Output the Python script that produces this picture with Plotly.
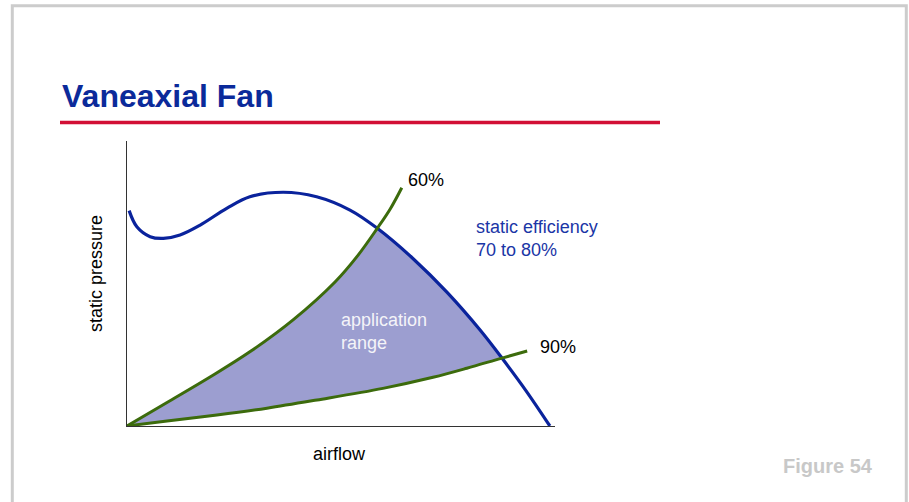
import plotly.graph_objects as go

# ---- data (airflow %, static pressure %) ----
fan_airflow = [0.5, 2.3, 5.4, 8.5, 12.4, 17.1, 23.3, 28.7, 36.5, 44.3, 52.1, 58.48, 66.8, 74.8, 82.5, 87.6, 93.2, 98.8]
fan_pressure = [76.1, 70.4, 66.9, 66.3, 67.5, 71.0, 76.9, 81.0, 82.6, 81.0, 76.3, 69.86, 59.2, 47.2, 33.9, 24.0, 12.5, 0.0]

sys60_airflow = [0.0, 9.35, 19.4, 28.7, 38.8, 48.6, 54.0, 58.48, 61.5, 64.2]
sys60_pressure = [0.0, 8.3, 17.3, 26.2, 37.5, 50.9, 60.4, 69.86, 76.7, 84.2]

sys90_airflow = [0.0, 9.35, 21.0, 32.7, 44.4, 59.8, 71.5, 79.4, 87.6, 93.5]
sys90_pressure = [0.0, 1.8, 3.9, 6.3, 9.2, 13.3, 17.2, 20.4, 24.0, 26.5]

W, H = 909, 502
FONT = "Liberation Sans, Arial, sans-serif"
BLUE = "#0A239C"
GREEN = "#3C6B0C"
FILL = "#9C9ED0"

# application range polygon: 60% curve up to fan crossing, fan curve down to 90% crossing, 90% curve back
i60 = 7   # index of crossing on sys60
f0, f1 = 11, 15  # fan indices of the two crossings
i90 = 8   # index of crossing on sys90
poly_x = sys60_airflow[:i60 + 1] + fan_airflow[f0 + 1:f1 + 1] + sys90_airflow[:i90][::-1]
poly_y = sys60_pressure[:i60 + 1] + fan_pressure[f0 + 1:f1 + 1] + sys90_pressure[:i90][::-1]

fig = go.Figure()
fig.add_trace(go.Scatter(x=poly_x, y=poly_y, mode="lines", fill="toself",
                         fillcolor=FILL, line=dict(width=0, color=FILL),
                         hoverinfo="skip", showlegend=False))
fig.add_trace(go.Scatter(x=fan_airflow, y=fan_pressure, mode="lines",
                         line=dict(color=BLUE, width=3.2, shape="spline", smoothing=1),
                         cliponaxis=False, showlegend=False))
fig.add_trace(go.Scatter(x=sys60_airflow, y=sys60_pressure, mode="lines",
                         line=dict(color=GREEN, width=3, shape="spline", smoothing=1),
                         cliponaxis=False, showlegend=False))
fig.add_trace(go.Scatter(x=sys90_airflow, y=sys90_pressure, mode="lines",
                         line=dict(color=GREEN, width=3, shape="spline", smoothing=1),
                         cliponaxis=False, showlegend=False))

def px(x):
    return x / W

def py(y):
    return 1 - y / H

x0, x1 = 127, 555
y0, y1 = 426, 141
fig.update_layout(
    width=W, height=H,
    margin=dict(l=0, r=0, t=0, b=0),
    paper_bgcolor="white", plot_bgcolor="white",
    xaxis=dict(domain=[px(x0), px(x1)], range=[0, 100], showgrid=False, zeroline=False,
               showticklabels=False, ticks="", showline=True, linecolor="#333333", linewidth=1.3,
               fixedrange=True),
    yaxis=dict(domain=[py(y0), py(y1)], range=[0, 100 * (y0 - y1) / (y0 - 143)], showgrid=False,
               zeroline=False, showticklabels=False, ticks="", showline=True,
               linecolor="#333333", linewidth=1.3, fixedrange=True),
    font=dict(family=FONT, size=18, color="black"),
)

# frame and title rule
fig.add_shape(type="rect", xref="paper", yref="paper",
              x0=px(12.3), x1=px(906.3), y0=py(5.7), y1=py(520),
              line=dict(color="#CCCCCC", width=3), layer="below")
fig.add_shape(type="line", xref="paper", yref="paper",
              x0=px(60), x1=px(660), y0=py(122.5), y1=py(122.5),
              line=dict(color="#D20F35", width=3.6))

def label(text, x, y, size=18, color="black", xanchor="left", family=FONT, angle=0):
    fig.add_annotation(text=text, xref="paper", yref="paper", x=px(x), y=py(y),
                       xanchor=xanchor, yanchor="middle", showarrow=False, textangle=angle,
                       align="left", font=dict(family=family, size=size, color=color))

label("<b>Vaneaxial Fan</b>", 60, 96, size=32, color="#0B2A9A")
label("60%", 406, 180)
label("static efficiency<br>70 to 80%", 474, 238, color="#1A35A6")
label("90%", 538, 347)
label("application<br>range", 339, 331, color="#F4F4F8")
label("airflow", 339, 454, xanchor="center")
label("static pressure", 96, 274, xanchor="center", angle=-90)
label("<b>Figure 54</b>", 828, 466, size=20, color="#C8C8C8", xanchor="center")

fig.write_html(
    "out.html",
    config={"displayModeBar": False},
    post_script="document.body.style.margin='0';document.body.style.overflow='hidden';",
)
